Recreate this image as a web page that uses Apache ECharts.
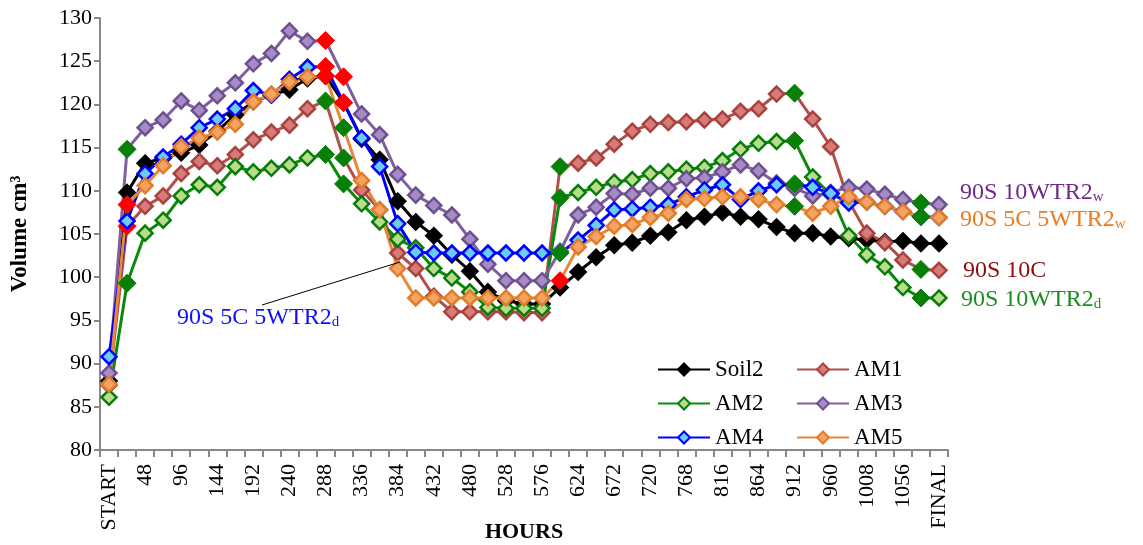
<!DOCTYPE html>
<html>
<head>
<meta charset="utf-8">
<script src="https://cdn.jsdelivr.net/npm/echarts@6/dist/echarts.min.js"></script>
<style>
html,body{margin:0;padding:0;background:#fff;}
#c{width:1143px;height:545px;}
</style>
</head>
<body>
<div id="c"></div>
<script>
const categories = ['START','24','48','72','96','120','144','168','192','216','240','264','288','312','336','360','384','408','432','456','480','504','528','552','576','600','624','648','672','696','720','744','768','792','816','840','864','888','912','936','960','984','1008','1032','1056','1080','FINAL'];
const yTicks = [80,85,90,95,100,105,110,115,120,125,130];

const soil2 = [88.0,109.8,113.2,113.8,114.4,115.3,116.9,118.8,120.3,121.1,121.7,123.0,123.3,120.2,116.0,113.6,108.8,106.4,104.8,102.6,100.7,98.3,97.3,96.9,96.9,98.8,100.6,102.3,103.7,104.0,104.8,105.2,106.6,107.0,107.5,107.0,106.7,105.8,105.1,105.1,104.7,104.5,104.3,104.1,104.2,103.9,103.9];
const am1 = [87.5,105.9,108.2,109.4,112.0,113.4,112.9,114.2,115.9,116.8,117.6,119.5,120.4,113.8,110.1,107.8,102.8,101.0,97.8,96.0,96.0,96.0,96.0,95.9,95.9,112.8,113.2,113.8,115.4,116.9,117.7,117.9,118.0,118.2,118.3,119.2,119.5,121.2,121.3,118.3,115.1,108.8,105.1,104.0,102.0,100.9,100.8];
const am2 = [86.1,99.3,105.1,106.6,109.4,110.7,110.4,112.8,112.2,112.6,113.0,113.8,114.2,110.8,108.5,106.4,104.4,103.4,101.0,99.9,98.3,96.5,96.4,96.4,96.4,109.2,109.8,110.4,111.0,111.3,112.0,112.2,112.5,112.7,113.5,114.8,115.5,115.7,115.8,111.6,109.6,104.8,102.6,101.2,98.8,97.6,97.6];
const am3 = [88.9,114.8,117.3,118.2,120.4,119.3,121.0,122.5,124.7,125.9,128.5,127.3,127.4,123.2,118.9,116.5,111.9,109.5,108.3,107.2,104.4,101.5,99.6,99.6,99.6,103.0,107.2,108.1,109.7,109.6,110.3,110.3,111.4,111.5,112.2,113.0,112.3,110.9,110.3,109.4,109.8,110.4,110.2,109.6,109.0,108.6,108.4];
const am4 = [90.8,106.5,112.0,113.9,115.4,117.3,118.3,119.5,121.6,121.1,122.9,124.3,124.4,120.2,116.1,112.8,106.2,102.9,102.8,102.8,102.8,102.8,102.8,102.8,102.8,102.8,104.3,106.0,107.8,107.9,108.1,108.4,109.3,110.1,110.7,109.0,110.0,110.7,110.8,110.4,109.7,108.6,108.7,108.2,107.6,107.0,106.9];
const am5 = [87.6,108.4,110.6,112.9,115.1,116.1,116.8,117.7,120.3,121.2,122.6,123.2,123.3,117.3,111.2,107.8,101.0,97.6,97.6,97.6,97.6,97.6,97.6,97.6,97.6,99.6,103.5,104.7,105.9,106.1,106.9,107.4,109.0,109.1,109.3,109.3,109.0,108.4,108.2,107.4,108.2,109.3,108.7,108.2,107.6,107.0,106.9];

// points drawn with a special (red / solid green) marker, by category index
const redPoints = {AM1:[1], AM3:[12,13], AM4:[12,13], AM5:[1,12,25]};
const greenPoints = {AM1:[12,13,25,38,45], AM2:[1,12,13,25,38,45], AM3:[1,45], AM4:[25,38], AM5:[13,38,45]};

const FONT = 'Liberation Serif';
const seriesDefs = [
  {name:'Soil2', data:soil2, line:'#000000', fill:'#000000', border:'#000000'},
  {name:'AM1', data:am1, line:'#B0504D', fill:'#D77B78', border:'#A8423F'},
  {name:'AM2', data:am2, line:'#0A8A0A', fill:'#B9DC8C', border:'#087C08'},
  {name:'AM3', data:am3, line:'#7E60A0', fill:'#A68CC4', border:'#6E5090'},
  {name:'AM4', data:am4, line:'#0000FF', fill:'#6CCBF2', border:'#0000FF'},
  {name:'AM5', data:am5, line:'#E8883A', fill:'#F3A462', border:'#E07C2A'}
];

function buildData(def){
  const reds = redPoints[def.name] || [];
  const greens = greenPoints[def.name] || [];
  return def.data.map((v,i)=>{
    if (reds.indexOf(i) >= 0) return {value:v, symbolSize:18, itemStyle:{color:'#FF0000', borderColor:'#FF0000', borderWidth:1}};
    if (greens.indexOf(i) >= 0) return {value:v, symbolSize:18, itemStyle:{color:'#078007', borderColor:'#078007', borderWidth:1}};
    return v;
  });
}

const series = seriesDefs.map(d=>({
  name:d.name, type:'line', data:buildData(d),
  symbol:'diamond', symbolSize:15, showAllSymbol:true,
  lineStyle:{color:d.line, width:3},
  itemStyle:{color:d.fill, borderColor:d.border, borderWidth:2.5},
  emphasis:{disabled:true}
}));

function subLabel(main, sub, color, x, y){
  return {type:'text', x:x, y:y, z:100,
    style:{text:'{m|'+main+'}{s|'+sub+'}', textVerticalAlign:'middle',
      rich:{m:{fontSize:24, fontFamily:FONT, fill:color, lineHeight:28, verticalAlign:'bottom'},
            s:{fontSize:15, fontFamily:FONT, fill:color, lineHeight:12, verticalAlign:'bottom'}}}};
}

const chart = echarts.init(document.getElementById('c'), null, {renderer:'canvas'});
chart.setOption({
  animation:false,
  backgroundColor:'#ffffff',
  grid:{left:100, right:195, top:18, bottom:95, containLabel:false, outerBoundsMode:'none'},
  legend:{
    left:652, top:353, width:290, orient:'horizontal',
    itemWidth:52, itemHeight:15, itemGap:11,
    data:seriesDefs.map(d=>d.name),
    textStyle:{fontFamily:FONT, fontSize:23, color:'#000', width:70, lineHeight:21}
  },
  xAxis:{
    type:'category', data:categories, boundaryGap:true,
    name:'HOURS', nameLocation:'middle', nameGap:71, nameMoveOverlap:false,
    nameTextStyle:{fontFamily:FONT, fontSize:22, fontWeight:'bold', color:'#000'},
    axisLine:{lineStyle:{color:'#888', width:2}},
    axisTick:{show:true, interval:0, length:7, lineStyle:{color:'#888', width:2}},
    axisLabel:{interval:1, rotate:90, fontFamily:FONT, fontSize:22, color:'#000', margin:14},
    splitLine:{show:false}
  },
  yAxis:{
    type:'value', min:yTicks[0], max:yTicks[yTicks.length-1], interval:5,
    name:'Volume cm³', nameLocation:'middle', nameGap:68, nameRotate:90, nameMoveOverlap:false,
    nameTextStyle:{fontFamily:FONT, fontSize:23, fontWeight:'bold', color:'#000'},
    axisLine:{show:true, lineStyle:{color:'#888', width:2}},
    axisTick:{show:true, length:6, lineStyle:{color:'#888', width:2}},
    axisLabel:{fontFamily:FONT, fontSize:22, color:'#000', margin:8},
    splitLine:{show:false}
  },
  graphic:[
    {type:'line', z:99, shape:{x1:262, y1:305, x2:400, y2:262}, style:{stroke:'#000', lineWidth:1}},
    subLabel('90S 5C 5WTR2','d','#1010FF',177,316),
    subLabel('90S 10WTR2','w','#702A86',960,191),
    subLabel('90S 5C 5WTR2','w','#EE7A1E',960,218),
    {type:'text', x:963, y:271, z:100, style:{text:'90S 10C', fontSize:24, fontFamily:FONT, fill:'#8E0C0C', textVerticalAlign:'middle'}},
    subLabel('90S 10WTR2','d','#1E8E1E',961,298)
  ],
  series:series
});
</script>
</body>
</html>
